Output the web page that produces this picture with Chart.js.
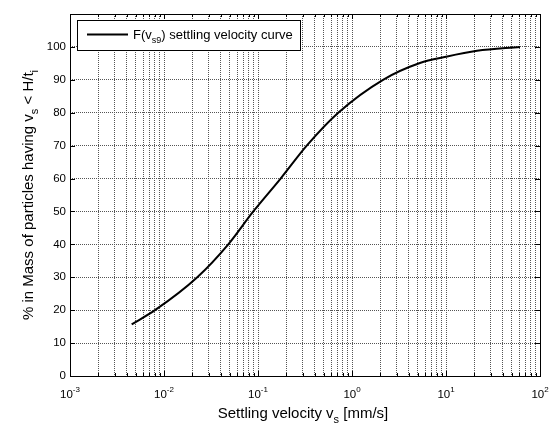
<!DOCTYPE html>
<html>
<head>
<meta charset="utf-8">
<script src="https://cdn.jsdelivr.net/npm/chart.js@4.4.0/dist/chart.umd.min.js"></script>
<style>
html,body{margin:0;padding:0;background:#fff;}
canvas{display:block;}
</style>
</head>
<body>
<canvas id="c" width="553" height="428" style="width:553px;height:428px"></canvas>
<script>
// ---- data ----
const velocity = [0.00453, 0.00802, 0.0226, 0.0483, 0.0891, 0.174, 0.330, 0.714, 2.14, 5.28, 10.0, 21.4, 61.2];
const percent  = [15.7, 20.0, 30.0, 40.0, 50.0, 60.0, 70.0, 80.0, 90.0, 95.1, 97.0, 98.8, 100];
const xDecades = [-3, -2, -1, 0, 1, 2];
const yTicks = [0, 10, 20, 30, 40, 50, 60, 70, 80, 90, 100, 110];
const yTickLabels = ['0','10','20','30','40','50','60','70','80','90','100',''];
const seriesName = 'F(v_s9) settling velocity curve';
const xTitle = 'Settling velocity v_s [mm/s]';
const yTitle = '% in Mass of particles having v_s < H/t_i';

const FONT = '"Liberation Sans", Arial, sans-serif';

const xTickValues = [];
for (let i = 0; i < xDecades.length; i++) {
  const e = xDecades[i];
  if (i === xDecades.length - 1) { xTickValues.push(Math.pow(10, e)); break; }
  for (let m = 1; m <= 9; m++) xTickValues.push(+(m * Math.pow(10, e)).toPrecision(3));
}

function drawRich(ctx, segs, x, y, size, align) {
  const small = Math.round(size * 0.7);
  let w = 0;
  const meas = segs.map(s => {
    ctx.font = (s.mode === 'n' ? size : small) + 'px ' + FONT;
    const mw = ctx.measureText(s.t).width;
    w += mw;
    return mw;
  });
  let cx = align === 'center' ? x - w / 2 : x;
  ctx.textAlign = 'left';
  ctx.textBaseline = 'alphabetic';
  segs.forEach((s, i) => {
    ctx.font = (s.mode === 'n' ? size : small) + 'px ' + FONT;
    let dy = 0;
    if (s.mode === 'sub') dy = size * 0.32;
    if (s.mode === 'sup') dy = -size * 0.55;
    ctx.fillText(s.t, cx, y + dy);
    cx += meas[i];
  });
  return w;
}

function parseSub(str) {
  const segs = [];
  let buf = '';
  for (let i = 0; i < str.length; i++) {
    if (str[i] === '_') {
      if (buf) segs.push({t: buf, mode: 'n'});
      buf = '';
      i++;
      let sub = '';
      while (i < str.length && str[i] !== ')' && str[i] !== ' ') { sub += str[i]; i++; }
      segs.push({t: sub, mode: 'sub'});
      i--;
    } else buf += str[i];
  }
  if (buf) segs.push({t: buf, mode: 'n'});
  return segs;
}

const decor = {
  id: 'decor',
  afterDraw(chart) {
    const ctx = chart.ctx;
    const a = chart.chartArea;
    const xs = chart.scales.x, ys = chart.scales.y;
    ctx.save();
    ctx.fillStyle = '#000';
    ctx.strokeStyle = '#000';
    ctx.lineWidth = 1;
    ctx.beginPath();
    xTickValues.forEach(v => {
      const px = Math.round(xs.getPixelForValue(v)) + 0.5;
      const major = Math.abs(Math.log10(v) - Math.round(Math.log10(v))) < 1e-9;
      const L = major ? 5 : 3;
      ctx.moveTo(px, a.bottom); ctx.lineTo(px, a.bottom - L);
      ctx.moveTo(px, a.top); ctx.lineTo(px, a.top + L);
    });
    yTicks.forEach(v => {
      const py = Math.round(ys.getPixelForValue(v)) + 0.5;
      ctx.moveTo(a.left, py); ctx.lineTo(a.left + 5, py);
      ctx.moveTo(a.right, py); ctx.lineTo(a.right - 5, py);
    });
    ctx.stroke();
    ctx.strokeRect(Math.round(a.left) + 0.5, Math.round(a.top) + 0.5, Math.round(a.right - a.left), Math.round(a.bottom - a.top));
    xDecades.forEach(e => {
      const px = xs.getPixelForValue(Math.pow(10, e));
      drawRich(ctx, [{t: '10', mode: 'n'}, {t: String(e), mode: 'sup'}], px, 398, 11.5, 'center');
    });
    drawRich(ctx, parseSub(xTitle), (a.left + a.right) / 2 - 2, 418, 15, 'center');
    ctx.save();
    ctx.translate(33, (a.top + a.bottom) / 2);
    ctx.rotate(-Math.PI / 2);
    drawRich(ctx, parseSub(yTitle), 0, 0, 15, 'center');
    ctx.restore();
    const lx = 77.5, ly = 20.5, lw = 223, lh = 30;
    ctx.fillStyle = '#fff';
    ctx.fillRect(lx, ly, lw, lh);
    ctx.strokeStyle = '#000';
    ctx.lineWidth = 1;
    ctx.strokeRect(lx, ly, lw, lh);
    ctx.beginPath();
    ctx.lineWidth = 2;
    ctx.moveTo(87, 34.5); ctx.lineTo(128, 34.5);
    ctx.stroke();
    ctx.fillStyle = '#000';
    drawRich(ctx, parseSub(seriesName), 133, 39, 13, 'left');
    ctx.restore();
  }
};

new Chart(document.getElementById('c'), {
  type: 'scatter',
  data: {
    datasets: [{
      label: seriesName,
      data: velocity.map((v, i) => ({x: v, y: percent[i]})),
      showLine: true,
      borderColor: '#000',
      borderWidth: 2,
      pointRadius: 0,
      cubicInterpolationMode: 'monotone',
      fill: false
    }]
  },
  options: {
    responsive: false,
    animation: false,
    layout: {padding: {left: 0, right: 13, top: 14, bottom: 0}},
    plugins: {legend: {display: false}, tooltip: {enabled: false}},
    scales: {
      x: {
        type: 'logarithmic',
        min: 1e-3, max: 1e2,
        afterBuildTicks: s => { s.ticks = xTickValues.map(v => ({value: v, major: false})); },
        afterFit: s => { s.height = 52; },
        ticks: {display: false},
        grid: {color: '#555', lineWidth: 1, drawTicks: false},
        border: {display: false, dash: [1, 1]}
      },
      y: {
        min: 0, max: 110,
        afterBuildTicks: s => { s.ticks = yTicks.map(v => ({value: v})); },
        afterFit: s => { s.width = 70; },
        ticks: {
          color: '#000',
          font: {family: FONT, size: 11.5},
          padding: 4,
          callback: (v) => { const i = yTicks.indexOf(v); return i >= 0 ? yTickLabels[i] : ''; }
        },
        grid: {color: '#555', lineWidth: 1, drawTicks: false},
        border: {display: false, dash: [1, 1]}
      }
    }
  },
  plugins: [decor]
});
</script>
</body>
</html>
